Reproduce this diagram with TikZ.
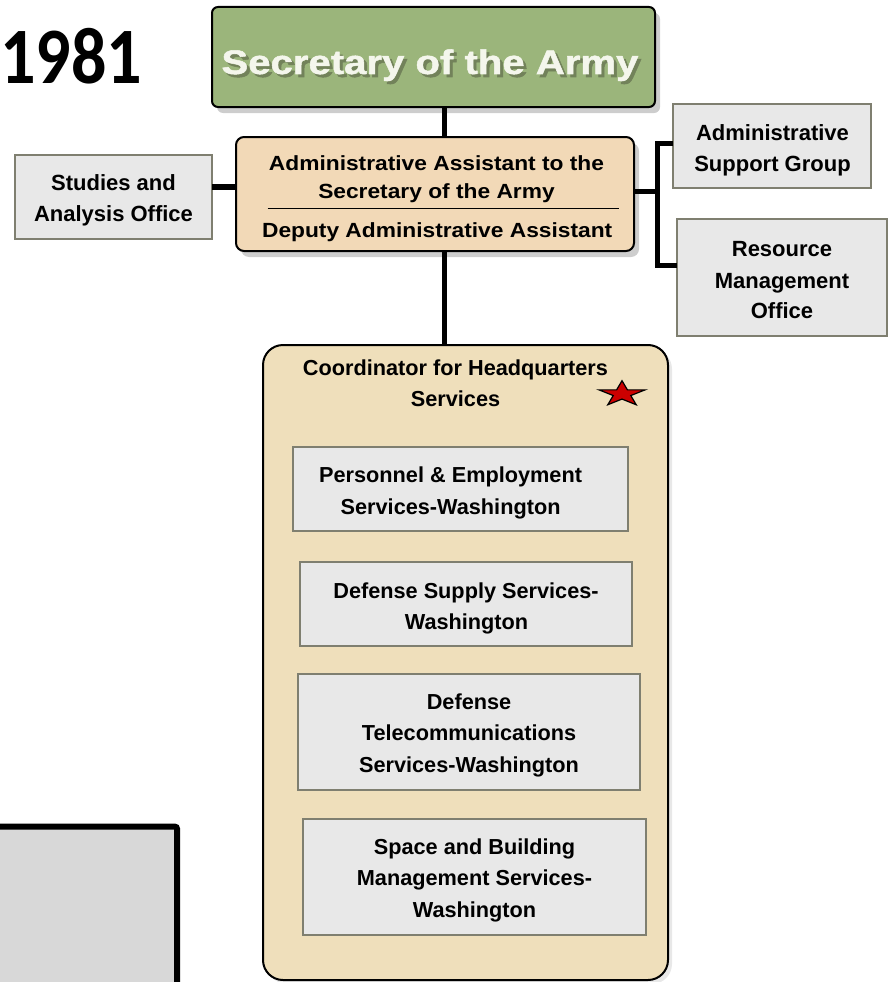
\documentclass[tikz,border=0pt]{standalone}
\usepackage{fontspec}
\setmainfont{Liberation Sans}
\newfontfamily\fsec[FakeStretch=1.18,FakeBold=1.5]{Liberation Sans}
\newfontfamily\fadm[FakeStretch=1.11]{Liberation Sans}
\newfontfamily\fyear[FakeStretch=0.875]{Carlito}
\usetikzlibrary{shadows}
\definecolor{secgreen}{HTML}{9BB57B}
\definecolor{sectext}{HTML}{F4F6EC}
\definecolor{secshadow}{HTML}{72825A}
\definecolor{admfill}{HTML}{F2D9B7}
\definecolor{chqfill}{HTML}{EFDFBB}
\definecolor{boxfill}{HTML}{E8E8E8}
\definecolor{boxline}{HTML}{7F7F70}
\definecolor{cornerfill}{HTML}{D8D8D8}
\definecolor{starred}{HTML}{CC0000}
\newcommand\shadowtext[1]{\rlap{\hspace{3pt}\raisebox{-3pt}{\textcolor{secshadow}{#1}}}\textcolor{sectext}{#1}}
\begin{document}
\begin{tikzpicture}[x=1pt,y=-1pt,
  graybox/.style={draw=boxline, line width=1.2pt, fill=boxfill, inner sep=0pt, outer sep=0pt},
  conn/.style={line width=5pt, black},
  softshadow/.style={drop shadow={shadow xshift=5pt, shadow yshift=-6pt, opacity=.28, fill=black!70}},
  tside/.style={font=\bfseries\fontsize{22}{26}\selectfont, anchor=base, inner sep=0pt},
  tadm/.style={font=\fadm\bfseries\fontsize{20.5}{24}\selectfont, anchor=base, inner sep=0pt},
  tchq/.style={font=\bfseries\fontsize{21.7}{26}\selectfont, anchor=base, inner sep=0pt}]
\useasboundingbox (0,0) rectangle (888,982);
\clip (0,0) rectangle (888,982);

% year
\node[font=\fyear\bfseries\fontsize{80}{90}\selectfont, anchor=base, inner sep=0pt] (year) at (71,83) {1981};

% bottom-left corner box
\draw[line width=6pt, fill=cornerfill, rounded corners=2pt] (-20,826.7) -- (177,826.7) -- (177,1010) -- (-20,1010) -- cycle;

% connector coordinates
\coordinate (jx) at (444,0);
\coordinate (jy) at (0,187);
\coordinate (bm) at (657,191.7);
\coordinate (bt) at (657,143);
\coordinate (bb) at (657,265);

% Coordinator box
\node[draw=black, line width=2pt, fill=chqfill, rounded corners=20pt, minimum width=405pt, minimum height=635pt, inner sep=0pt, outer sep=0pt, drop shadow={shadow xshift=4pt, shadow yshift=-4pt, opacity=.15, fill=black!60}] (chq) at (465.5,662.5) {};

% Secretary
\node[draw=black, line width=2pt, fill=secgreen, rounded corners=6pt, minimum width=443pt, minimum height=100pt, inner sep=0pt, outer sep=0pt, softshadow] (sec) at (433.5,57) {};
\node[font=\fsec\bfseries\fontsize{34}{40}\selectfont, anchor=base, inner sep=0pt] (sect) at (430,74) {\shadowtext{Secretary of the Army}};

% Administrative assistant
\node[draw=black, line width=2pt, fill=admfill, rounded corners=8pt, minimum width=398pt, minimum height=114pt, inner sep=0pt, outer sep=0pt, softshadow] (adm) at (435,194) {};
\node[tadm] (adm1) at (436.5,170.7) {Administrative Assistant to the};
\node[tadm] (adm2) at (436.5,198) {Secretary of the Army};
\coordinate (dl) at (267.7,208.3);
\coordinate (dr) at (619,208.3);
\draw[line width=1.5pt] (dl) -- (dr);
\node[tadm] (adm3) at (437.2,237) {Deputy Administrative Assistant};

% side boxes
\node[graybox, minimum width=197pt, minimum height=84pt] (sao) at (113.5,197) {};
\node[tside] (sao1) at (113.5,190.7) {Studies and};
\node[tside] (sao2) at (113.5,221.7) {Analysis Office};

\node[graybox, minimum width=198pt, minimum height=84pt] (asg) at (772,146) {};
\node[tside] (asg1) at (772.5,140.7) {Administrative};
\node[tside] (asg2) at (772.5,171.7) {Support Group};

\node[graybox, minimum width=210pt, minimum height=117pt] (rmo) at (782,277.5) {};
\node[tside] (rmo1) at (782,256.7) {Resource};
\node[tside] (rmo2) at (782,288) {Management};
\node[tside] (rmo3) at (782,318.5) {Office};

% coordinator title and star
\node[tchq] (chq1) at (455.5,375) {Coordinator for Headquarters};
\node[tchq] (chq2) at (455.5,406.7) {Services};
\begin{scope}[shift={(622,394)}, xscale=24.2, yscale=-13.3]
  \draw[fill=starred, draw=black, line width=1.2pt, line join=miter]
    (90:1) -- (126:0.382) -- (162:1) -- (198:0.382) -- (234:1) -- (270:0.382)
    -- (306:1) -- (342:0.382) -- (18:1) -- (54:0.382) -- cycle;
\end{scope}

% inner boxes
\node[graybox, minimum width=335pt, minimum height=84pt] (pes) at (460.5,489) {};
\node[tchq] (pes1) at (450.6,482.7) {Personnel \& Employment};
\node[tchq] (pes2) at (450.6,514) {Services-Washington};

\node[graybox, minimum width=332pt, minimum height=84pt] (dss) at (466,604) {};
\node[tchq] (dss1) at (466,598) {Defense Supply Services-};
\node[tchq] (dss2) at (466.5,629) {Washington};

\node[graybox, minimum width=342pt, minimum height=116pt] (dts) at (469,732) {};
\node[tchq] (dts1) at (469,709.3) {Defense};
\node[tchq] (dts2) at (469,740.7) {Telecommunications};
\node[tchq] (dts3) at (469,772.7) {Services-Washington};

\node[graybox, minimum width=343pt, minimum height=116pt] (sbm) at (474.5,877) {};
\node[tchq] (sbm1) at (474.5,854) {Space and Building};
\node[tchq] (sbm2) at (474.5,885.7) {Management Services-};
\node[tchq] (sbm3) at (474.5,917.3) {Washington};

% connectors
\draw[conn] (sec.south -| jx) -- (adm.north -| jx);
\draw[conn] (adm.south -| jx) -- (chq.north -| jx);
\draw[conn, line width=6pt] (sao.east |- jy) -- (adm.west |- jy);
\draw[conn] (adm.east |- bm) -- (bm);
\draw[conn, line join=miter] (asg.west |- bt) -- (bt) -- (bb) -- (rmo.west |- bb);
\end{tikzpicture}
\end{document}
